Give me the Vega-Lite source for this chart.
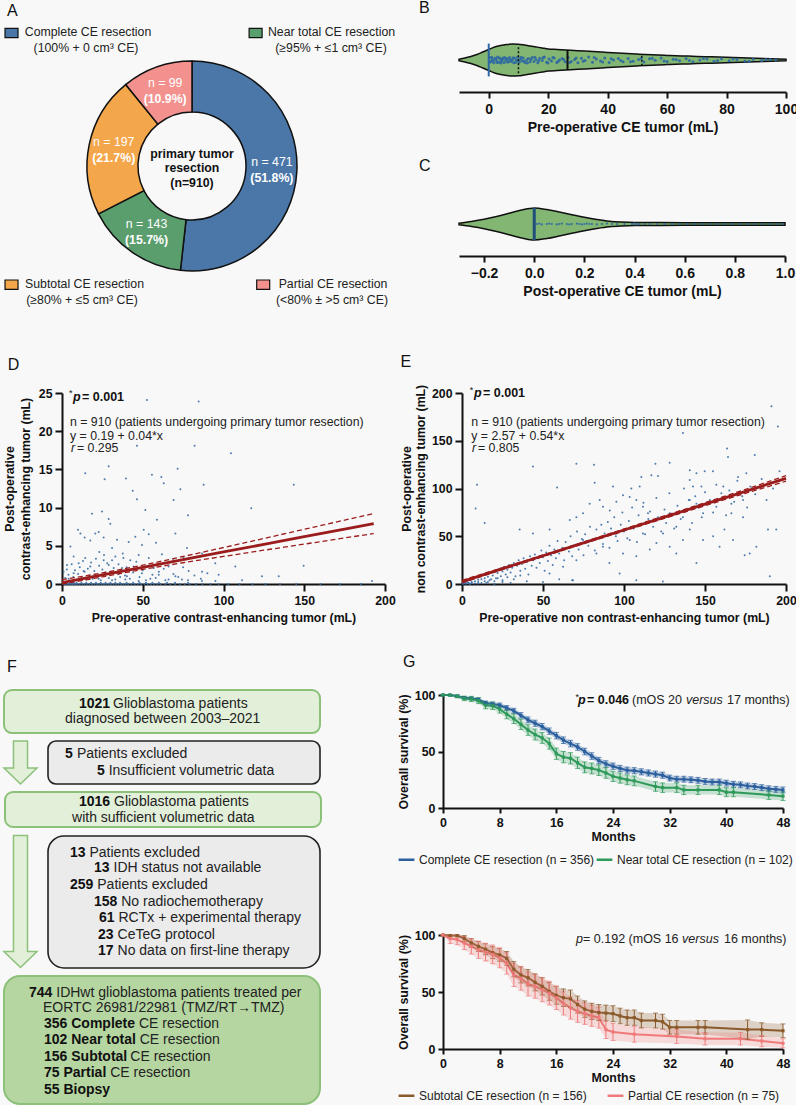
{
"$schema": "https://vega.github.io/schema/vega-lite/v6.json",
"background": "#f8f8f8",
"padding": 0,
"spacing": 30,
"resolve": {"scale": {"color": "independent"}, "legend": {"color": "independent"}},
"config": {
  "font": "Liberation Sans",
  "view": {"stroke": null},
  "axis": {"domainColor": "#111", "domainWidth": 2, "tickColor": "#111", "tickWidth": 2, "tickSize": 7, "labelColor": "#111", "titleColor": "#111", "labelFontWeight": "bold", "titleFontWeight": "bold", "labelFontSize": 12.3, "titleFontSize": 12.3, "labelPadding": 3, "grid": false, "labelFlush": false, "labelOverlap": false},
  "title": {"fontSize": 16, "fontWeight": "normal", "color": "#111", "anchor": "start"},
  "legend": {"labelFont": "Liberation Sans"}
},
"vconcat": [
{
  "spacing": 17,
  "resolve": {"scale": {"color": "independent"}, "legend": {"color": "independent"}},
  "hconcat": [
  {
    "width": 340, "height": 286,
    "layer": [
      {
        "data": {"values": [
          {"cat": "Complete", "n": 471, "ord": 1, "lab": "n = 471", "pct": "(51.8%)"},
          {"cat": "Near total", "n": 143, "ord": 2, "lab": "n = 143", "pct": "(15.7%)"},
          {"cat": "Subtotal", "n": 197, "ord": 3, "lab": "n = 197", "pct": "(21.7%)"},
          {"cat": "Partial", "n": 99, "ord": 4, "lab": "n = 99", "pct": "(10.9%)"}
        ]},
        "encoding": {
          "theta": {"field": "n", "type": "quantitative", "stack": true},
          "order": {"field": "ord", "type": "quantitative"},
          "x": {"datum": 47.5, "type": "quantitative", "scale": {"domain": [15, 100], "nice": false, "zero": false}, "axis": null},
          "y": {"datum": 55.33, "type": "quantitative", "scale": {"domain": [12.67, 108], "reverse": true, "nice": false, "zero": false}, "axis": null}
        },
        "layer": [
          {"mark": {"type": "arc", "innerRadius": 54, "outerRadius": 105, "stroke": "#111", "strokeWidth": 1.5},
           "encoding": {"color": {"field": "cat", "type": "nominal", "scale": {"domain": ["Complete", "Near total", "Subtotal", "Partial"], "range": ["#4a77a7", "#5b9e6e", "#f3a64a", "#f2918e"]}, "legend": null}}},
          {"mark": {"type": "text", "radius": 80, "dy": -8, "fill": "#ffffff", "fontSize": 12.3},
           "encoding": {"detail": {"field": "cat"}, "text": {"field": "lab"}}},
          {"mark": {"type": "text", "radius": 80, "dy": 8, "fill": "#ffffff", "fontSize": 12.3, "fontWeight": "bold"},
           "encoding": {"detail": {"field": "cat"}, "text": {"field": "pct"}}}
        ]
      },
      {
        "data": {"values": [
          {"cat": "Complete", "x": 2.38, "y": 11},
          {"cat": "Near total", "x": 63.4, "y": 11},
          {"cat": "Subtotal", "x": 2.38, "y": 94.9},
          {"cat": "Partial", "x": 65.3, "y": 94.9}
        ]},
        "mark": {"type": "point", "shape": "M-1,-0.72H1V0.72H-1Z", "size": 169, "filled": true, "stroke": "#111", "strokeWidth": 1.2, "opacity": 1},
        "encoding": {
          "x": {"field": "x", "type": "quantitative"},
          "y": {"field": "y", "type": "quantitative"},
          "color": {"field": "cat", "type": "nominal", "legend": null}
        }
      },
      {
        "data": {"values": [
          {"x": 21.5, "y": 10.77, "t": "Complete CE resection"},
          {"x": 21, "y": 15.9, "t": "(100% + 0 cm³ CE)"},
          {"x": 82.38, "y": 10.77, "t": "Near total CE resection"},
          {"x": 82.25, "y": 15.9, "t": "(≥95% + ≤1 cm³ CE)"},
          {"x": 20.63, "y": 94.67, "t": "Subtotal CE resection"},
          {"x": 20, "y": 100, "t": "(≥80% + ≤5 cm³ CE)"},
          {"x": 82.75, "y": 94.67, "t": "Partial CE resection"},
          {"x": 82.5, "y": 100, "t": "(<80% ± >5 cm³ CE)"}
        ]},
        "mark": {"type": "text", "align": "center", "baseline": "middle", "fontSize": 12.3, "color": "#222"},
        "encoding": {"x": {"field": "x", "type": "quantitative"}, "y": {"field": "y", "type": "quantitative"}, "text": {"field": "t"}}
      },
      {
        "data": {"values": [
          {"x": 47.5, "y": 51.33, "t": "primary tumor"},
          {"x": 47.5, "y": 56.1, "t": "resection"},
          {"x": 47.5, "y": 61.1, "t": "(n=910)"}
        ]},
        "mark": {"type": "text", "align": "center", "baseline": "middle", "fontSize": 12.3, "fontWeight": "bold", "color": "#111"},
        "encoding": {"x": {"field": "x", "type": "quantitative"}, "y": {"field": "y", "type": "quantitative"}, "text": {"field": "t"}}
      },
      {
        "data": {"values": [{"x": 1.25, "y": 3.8, "t": "A"}]},
        "mark": {"type": "text", "align": "left", "baseline": "middle", "fontSize": 16, "color": "#111"},
        "encoding": {"x": {"field": "x", "type": "quantitative"}, "y": {"field": "y", "type": "quantitative"}, "text": {"field": "t"}}
      }
    ]
  },
  {
    "spacing": 24,
    "vconcat": [
    {
      "width": 327, "height": 44,
      "title": {"text": "B", "frame": "group", "anchor": "start", "dx": -40, "offset": 22},
      "layer": [
        {
          "data": {"values": [
            {"x": -10, "hi": 0.035, "lo": -0.035}, {"x": -8, "hi": 0.1, "lo": -0.1}, {"x": -6, "hi": 0.175, "lo": -0.175},
            {"x": -4, "hi": 0.275, "lo": -0.275}, {"x": -2, "hi": 0.4, "lo": -0.4}, {"x": 0, "hi": 0.525, "lo": -0.525},
            {"x": 2, "hi": 0.65, "lo": -0.65}, {"x": 4, "hi": 0.725, "lo": -0.725}, {"x": 6, "hi": 0.775, "lo": -0.775},
            {"x": 8, "hi": 0.8, "lo": -0.8}, {"x": 10, "hi": 0.79, "lo": -0.79}, {"x": 12, "hi": 0.75, "lo": -0.75},
            {"x": 14, "hi": 0.7, "lo": -0.7}, {"x": 16, "hi": 0.65, "lo": -0.65}, {"x": 18, "hi": 0.6, "lo": -0.6},
            {"x": 20, "hi": 0.55, "lo": -0.55}, {"x": 23, "hi": 0.525, "lo": -0.525}, {"x": 26, "hi": 0.5, "lo": -0.5},
            {"x": 30, "hi": 0.465, "lo": -0.465}, {"x": 35, "hi": 0.425, "lo": -0.425}, {"x": 40, "hi": 0.38, "lo": -0.38},
            {"x": 45, "hi": 0.335, "lo": -0.335}, {"x": 50, "hi": 0.295, "lo": -0.295}, {"x": 55, "hi": 0.26, "lo": -0.26},
            {"x": 60, "hi": 0.23, "lo": -0.23}, {"x": 65, "hi": 0.205, "lo": -0.205}, {"x": 70, "hi": 0.18, "lo": -0.18},
            {"x": 75, "hi": 0.16, "lo": -0.16}, {"x": 80, "hi": 0.14, "lo": -0.14}, {"x": 85, "hi": 0.115, "lo": -0.115},
            {"x": 90, "hi": 0.09, "lo": -0.09}, {"x": 95, "hi": 0.065, "lo": -0.065}, {"x": 100, "hi": 0.04, "lo": -0.04}
          ]},
          "mark": {"type": "area", "fill": "#82b672", "stroke": "#111", "strokeWidth": 1.5, "interpolate": "monotone"},
          "encoding": {
            "x": {"field": "x", "type": "quantitative", "scale": {"domain": [-10, 100], "nice": false, "zero": false},
                  "axis": {"values": [0, 20, 40, 60, 80, 100], "offset": 10, "title": "Pre-operative CE tumor (mL)", "labelFontSize": 14, "titleFontSize": 14, "tickSize": 6, "labelPadding": 4, "titlePadding": 4}},
            "y": {"field": "hi", "type": "quantitative", "scale": {"domain": [-1.1, 1.1], "nice": false}, "axis": null, "stack": null},
            "y2": {"field": "lo"}
          }
        },
        {
          "data": {"values": [
            {"x":0.3,"j":0.12},{"x":0.8,"j":-0.08},{"x":1.2,"j":0.03},{"x":1.7,"j":-0.14},{"x":2.1,"j":0.09},{"x":2.6,"j":-0.02},{"x":3.0,"j":0.15},{"x":3.4,"j":-0.11},{"x":3.9,"j":0.05},{"x":4.3,"j":-0.05},
            {"x":4.8,"j":0.1},{"x":5.2,"j":-0.13},{"x":5.7,"j":0.0},{"x":6.1,"j":0.07},{"x":6.6,"j":-0.09},{"x":7.0,"j":0.12},{"x":7.5,"j":-0.08},{"x":7.9,"j":0.03},{"x":8.4,"j":-0.14},{"x":8.8,"j":0.09},
            {"x":9.3,"j":-0.02},{"x":9.7,"j":0.15},{"x":10.2,"j":-0.11},{"x":10.7,"j":0.05},{"x":11.1,"j":-0.05},{"x":11.6,"j":0.1},{"x":12.2,"j":-0.13},{"x":12.8,"j":0.0},{"x":13.3,"j":0.07},{"x":13.9,"j":-0.09},
            {"x":14.6,"j":0.12},{"x":15.2,"j":-0.08},{"x":15.9,"j":0.03},{"x":16.5,"j":-0.14},{"x":17.2,"j":0.09},{"x":18.0,"j":-0.02},{"x":18.7,"j":0.15},{"x":19.5,"j":-0.11},{"x":20.3,"j":0.05},{"x":21.1,"j":-0.05},
            {"x":22.0,"j":0.1},{"x":22.9,"j":-0.13},{"x":23.8,"j":0.0},{"x":24.7,"j":0.07},{"x":25.7,"j":-0.09},{"x":26.7,"j":0.12},{"x":27.8,"j":-0.08},{"x":28.9,"j":0.03},{"x":30.0,"j":-0.14},{"x":31.2,"j":0.09},
            {"x":32.4,"j":-0.02},{"x":33.6,"j":0.15},{"x":34.9,"j":-0.11},{"x":36.2,"j":0.05},{"x":37.6,"j":-0.05},{"x":39.0,"j":0.1},{"x":40.5,"j":-0.13},{"x":42.0,"j":0.0},{"x":43.6,"j":0.07},{"x":45.2,"j":-0.09},
            {"x":46.9,"j":0.08},{"x":48.6,"j":-0.06},{"x":50.4,"j":0.02},{"x":52.2,"j":-0.1},{"x":54.1,"j":0.06},{"x":56.0,"j":-0.01},{"x":58.0,"j":0.1},{"x":60.0,"j":-0.08},{"x":62.1,"j":0.04},{"x":64.2,"j":-0.04},
            {"x":66.4,"j":0.07},{"x":68.7,"j":-0.09},{"x":71.0,"j":0.0},{"x":73.4,"j":0.05},{"x":75.8,"j":-0.06},{"x":78.3,"j":0.06},{"x":80.9,"j":-0.04},{"x":83.5,"j":0.02},{"x":86.2,"j":-0.05},{"x":89.0,"j":0.04},
            {"x":91.8,"j":-0.02},{"x":94.7,"j":0.03},{"x":96.5,"j":0.0},
            {"x":0.5,"j":-0.1},{"x":1.0,"j":0.14},{"x":1.5,"j":-0.04},{"x":2.4,"j":0.06},{"x":2.8,"j":-0.12},{"x":3.6,"j":0.1},{"x":4.1,"j":-0.15},{"x":4.6,"j":0.02},{"x":5.4,"j":0.13},{"x":6.3,"j":-0.1},
            {"x":6.9,"j":0.04},{"x":7.7,"j":-0.03},{"x":8.2,"j":0.11},{"x":9.0,"j":-0.12},{"x":9.9,"j":0.01},{"x":10.9,"j":0.14},{"x":11.9,"j":-0.06},{"x":13.0,"j":-0.15},{"x":14.2,"j":0.04},{"x":15.5,"j":0.14},
            {"x":16.8,"j":-0.04},{"x":18.3,"j":0.11},{"x":19.9,"j":-0.15},{"x":21.6,"j":0.13},{"x":23.3,"j":-0.07},{"x":25.2,"j":0.03},{"x":27.2,"j":-0.12},{"x":29.4,"j":0.1},{"x":31.8,"j":-0.06},{"x":35.5,"j":0.12},
            {"x":38.3,"j":-0.1},{"x":41.2,"j":0.06},{"x":44.4,"j":-0.03},{"x":47.7,"j":-0.09},{"x":51.3,"j":0.07},{"x":55.0,"j":0.09},{"x":59.0,"j":-0.05},{"x":63.1,"j":0.03},{"x":67.5,"j":-0.02},{"x":72.2,"j":0.08},
            {"x":77.0,"j":-0.03},{"x":82.2,"j":0.05},{"x":87.6,"j":-0.06},{"x":93.2,"j":0.02}
          ]},
          "mark": {"type": "circle", "size": 9, "color": "#2d68a3", "opacity": 0.9},
          "encoding": {"x": {"field": "x", "type": "quantitative"}, "y": {"field": "j", "type": "quantitative"}}
        },
        {
          "data": {"values": [{"x": 26.5, "lo": -0.5, "hi": 0.5}]},
          "mark": {"type": "rule", "color": "#111", "strokeWidth": 2},
          "encoding": {"x": {"field": "x", "type": "quantitative"}, "y": {"field": "lo", "type": "quantitative"}, "y2": {"field": "hi"}}
        },
        {
          "data": {"values": [{"x": 10, "lo": -0.66, "hi": 0.66}, {"x": 51.5, "lo": -0.29, "hi": 0.29}]},
          "mark": {"type": "rule", "color": "#111", "strokeWidth": 1.5, "strokeDash": [2, 2]},
          "encoding": {"x": {"field": "x", "type": "quantitative"}, "y": {"field": "lo", "type": "quantitative"}, "y2": {"field": "hi"}}
        },
        {
          "data": {"values": [{"x": 0, "lo": -0.82, "hi": 0.82}]},
          "mark": {"type": "rule", "color": "#2d68a3", "strokeWidth": 2},
          "encoding": {"x": {"field": "x", "type": "quantitative"}, "y": {"field": "lo", "type": "quantitative"}, "y2": {"field": "hi"}}
        }
      ]
    },
    {
      "width": 326, "height": 44,
      "title": {"text": "C", "frame": "group", "anchor": "start", "dx": -40, "offset": 28},
      "layer": [
        {
          "data": {"values": [
            {"x": -0.3, "hi": 0.04, "lo": -0.04}, {"x": -0.25, "hi": 0.125, "lo": -0.125}, {"x": -0.2, "hi": 0.235, "lo": -0.235},
            {"x": -0.15, "hi": 0.375, "lo": -0.375}, {"x": -0.1, "hi": 0.535, "lo": -0.535}, {"x": -0.05, "hi": 0.7, "lo": -0.7},
            {"x": 0, "hi": 0.8, "lo": -0.8}, {"x": 0.05, "hi": 0.725, "lo": -0.725}, {"x": 0.1, "hi": 0.6, "lo": -0.6},
            {"x": 0.15, "hi": 0.465, "lo": -0.465}, {"x": 0.2, "hi": 0.335, "lo": -0.335}, {"x": 0.25, "hi": 0.225, "lo": -0.225},
            {"x": 0.3, "hi": 0.14, "lo": -0.14}, {"x": 0.35, "hi": 0.1, "lo": -0.1}, {"x": 0.4, "hi": 0.08, "lo": -0.08},
            {"x": 0.5, "hi": 0.07, "lo": -0.07}, {"x": 0.6, "hi": 0.065, "lo": -0.065}, {"x": 0.8, "hi": 0.065, "lo": -0.065},
            {"x": 1.0, "hi": 0.065, "lo": -0.065}
          ]},
          "mark": {"type": "area", "fill": "#82b672", "stroke": "#111", "strokeWidth": 1.5, "interpolate": "monotone"},
          "encoding": {
            "x": {"field": "x", "type": "quantitative", "scale": {"domain": [-0.3, 1.0], "nice": false, "zero": false},
                  "axis": {"values": [-0.2, 0, 0.2, 0.4, 0.6, 0.8, 1.0], "format": ".1f", "offset": 10, "title": "Post-operative CE tumor (mL)", "labelFontSize": 14, "titleFontSize": 14, "tickSize": 6, "labelPadding": 4, "titlePadding": 4}},
            "y": {"field": "hi", "type": "quantitative", "scale": {"domain": [-1.1, 1.1], "nice": false}, "axis": null, "stack": null},
            "y2": {"field": "lo"}
          }
        },
        {
          "data": {"values": [
            {"x":0.01,"j":0},{"x":0.02,"j":0.02},{"x":0.03,"j":-0.02},{"x":0.05,"j":0},{"x":0.06,"j":0.02},{"x":0.07,"j":0},{"x":0.09,"j":-0.02},{"x":0.1,"j":0},
            {"x":0.11,"j":0.02},{"x":0.13,"j":0},{"x":0.14,"j":-0.02},{"x":0.15,"j":0},{"x":0.17,"j":0.02},{"x":0.18,"j":0},{"x":0.19,"j":-0.02},{"x":0.2,"j":0},
            {"x":0.21,"j":0.02},{"x":0.22,"j":0},{"x":0.23,"j":0},{"x":0.25,"j":-0.02},{"x":0.27,"j":0},{"x":0.29,"j":0.02},{"x":0.31,"j":0},{"x":0.33,"j":0},
            {"x":0.36,"j":0},{"x":0.39,"j":0},{"x":0.4,"j":0.02},{"x":0.41,"j":-0.02},{"x":0.42,"j":0},{"x":0.44,"j":0},{"x":0.46,"j":0},{"x":0.49,"j":0},
            {"x":0.52,"j":0},{"x":0.55,"j":0},{"x":0.58,"j":0},{"x":0.61,"j":0},{"x":0.64,"j":0},{"x":0.67,"j":0},{"x":0.7,"j":0},{"x":0.73,"j":0},
            {"x":0.76,"j":0},{"x":0.79,"j":0},{"x":0.82,"j":0},{"x":0.85,"j":0},{"x":0.88,"j":0},{"x":0.91,"j":0},{"x":0.94,"j":0},{"x":0.97,"j":0},{"x":0.99,"j":0}
          ]},
          "mark": {"type": "circle", "size": 5, "color": "#2d68a3", "opacity": 0.9},
          "encoding": {"x": {"field": "x", "type": "quantitative"}, "y": {"field": "j", "type": "quantitative"}}
        },
        {
          "data": {"values": [{"x": 0, "lo": -0.8, "hi": 0.8}]},
          "mark": {"type": "rule", "color": "#1f4f7a", "strokeWidth": 3},
          "encoding": {"x": {"field": "x", "type": "quantitative"}, "y": {"field": "lo", "type": "quantitative"}, "y2": {"field": "hi"}}
        }
      ]
    }
    ]
  }
  ]
},
{
  "spacing": 4,
  "hconcat": [
  {
    "width": 323, "height": 191,
    "title": {"text": "D", "frame": "bounds", "anchor": "start", "dx": 4, "offset": 14},
    "layer": [
      {
        "data": {"values": [
          {"x":52.6,"y":24.1},{"x":84.6,"y":23.9},{"x":46.4,"y":18.1},{"x":82.1,"y":18.1},{"x":104.6,"y":17.1},{"x":28.9,"y":15.4},{"x":71.6,"y":15.1},{"x":14.4,"y":14.5},
          {"x":55.7,"y":14.3},{"x":61.5,"y":14.0},{"x":39.6,"y":13.8},{"x":26.4,"y":13.7},{"x":63,"y":13.2},{"x":87.7,"y":13.0},{"x":143.5,"y":13.0},{"x":73.3,"y":12.4},
          {"x":43.8,"y":12.2},{"x":46.4,"y":11.1},{"x":69.1,"y":11.0},{"x":117.2,"y":9.9},{"x":18.6,"y":9.2},{"x":24.8,"y":9.5},{"x":51.6,"y":9.7},{"x":78,"y":9.0},
          {"x":58.8,"y":8.4},{"x":28.9,"y":8.5},{"x":29.9,"y":7.9},{"x":9.9,"y":7.1},{"x":22.7,"y":6.8},{"x":11.4,"y":6.6},{"x":14,"y":6.1},{"x":20.6,"y":6.6},
          {"x":25.8,"y":6.1},{"x":50.6,"y":7.1},{"x":53.7,"y":6.5},{"x":70.2,"y":6.6},{"x":45.4,"y":6.2},{"x":17.5,"y":5.7},{"x":34.1,"y":5.8},{"x":41.3,"y":5.5},
          {"x":49.5,"y":5.1},{"x":58.2,"y":5.4},{"x":5.2,"y":4.9},{"x":31,"y":4.7},{"x":77.4,"y":4.7},{"x":23.1,"y":4.2},{"x":37.6,"y":4.0},{"x":47.5,"y":3.8},
          {"x":61.9,"y":3.9},{"x":86.7,"y":4.0},{"x":7.2,"y":3.6},{"x":14.4,"y":3.4},{"x":25.8,"y":3.1},{"x":33,"y":3.6},{"x":42.3,"y":3.1},{"x":53.7,"y":3.4},
          {"x":69.1,"y":3.1},{"x":75.3,"y":3.4},{"x":149.6,"y":2.4},{"x":94.9,"y":2.7},{"x":107.3,"y":2.3},{"x":3.1,"y":2.5},{"x":10.3,"y":2.7},{"x":17.5,"y":2.3},
          {"x":28.9,"y":2.5},{"x":37.2,"y":2.1},{"x":44.4,"y":2.3},{"x":56.8,"y":2.1},{"x":66,"y":2.3},{"x":78.4,"y":1.7},{"x":86.7,"y":1.6},{"x":1,"y":1.6},
          {"x":7.2,"y":1.4},{"x":13.4,"y":1.7},{"x":20.6,"y":1.2},{"x":26.8,"y":1.5},{"x":35.1,"y":1.3},{"x":40.2,"y":1.0},{"x":49.5,"y":1.4},{"x":59.9,"y":1.2},
          {"x":70.2,"y":1.0},{"x":97,"y":1.2},{"x":123.8,"y":1.0},{"x":134.2,"y":1.0},{"x":4.1,"y":0.7},{"x":12.4,"y":0.6},{"x":22.7,"y":0.7},{"x":31,"y":0.5},
          {"x":39.2,"y":0.6},{"x":47.5,"y":0.4},{"x":54.7,"y":0.7},{"x":64,"y":0.5},{"x":74.3,"y":0.6},{"x":86.7,"y":0.4},{"x":111.5,"y":0.5},{"x":192,"y":0.4},
          {"x":2,"y":0.8},{"x":3,"y":1.9},{"x":4,"y":1.2},{"x":5,"y":0.4},{"x":6,"y":2.6},{"x":7,"y":0.9},{"x":8,"y":1.8},{"x":9,"y":0.5},{"x":10,"y":1.3},{"x":11,"y":2.2},
          {"x":12,"y":0.9},{"x":13,"y":3.0},{"x":14,"y":1.6},{"x":15,"y":0.6},{"x":16,"y":2.0},{"x":17,"y":1.1},{"x":18,"y":2.8},{"x":19,"y":0.7},{"x":20,"y":1.7},{"x":21,"y":3.3},
          {"x":22,"y":1.0},{"x":23,"y":2.4},{"x":24,"y":0.5},{"x":25,"y":1.9},{"x":26,"y":3.8},{"x":27,"y":1.2},{"x":28,"y":2.7},{"x":29,"y":0.8},{"x":30,"y":1.6},{"x":31,"y":3.1},
          {"x":32,"y":2.1},{"x":33,"y":0.6},{"x":34,"y":1.4},{"x":35,"y":2.6},{"x":36,"y":0.9},{"x":37,"y":1.8},{"x":38,"y":3.4},{"x":39,"y":1.1},{"x":40,"y":2.2},{"x":42,"y":0.7},
          {"x":44,"y":1.5},{"x":46,"y":2.9},{"x":48,"y":0.9},{"x":50,"y":1.8},{"x":52,"y":0.5},{"x":54,"y":2.4},{"x":56,"y":1.2},{"x":58,"y":0.8},{"x":60,"y":1.6},{"x":63,"y":2.0},
          {"x":66,"y":0.6},{"x":69,"y":1.3},{"x":72,"y":0.9},{"x":75,"y":2.2},{"x":78,"y":0.5},{"x":82,"y":1.1},{"x":86,"y":0.7},{"x":90,"y":1.4},{"x":95,"y":0.4},
          {"x":0.5,"y":0},{"x":1.5,"y":0},{"x":2.5,"y":0},{"x":3.5,"y":0},{"x":4.5,"y":0},{"x":5.5,"y":0},{"x":6.5,"y":0},{"x":7.5,"y":0},{"x":8.5,"y":0},{"x":9.5,"y":0},
          {"x":11,"y":0},{"x":12.5,"y":0},{"x":14,"y":0},{"x":15.5,"y":0},{"x":17,"y":0},{"x":18.5,"y":0},{"x":20,"y":0},{"x":21.5,"y":0},{"x":23,"y":0},{"x":24.5,"y":0},
          {"x":26,"y":0},{"x":27.5,"y":0},{"x":29,"y":0},{"x":30.5,"y":0},{"x":32,"y":0},{"x":33.5,"y":0},{"x":35,"y":0},{"x":36.5,"y":0},{"x":38,"y":0},{"x":39.5,"y":0},
          {"x":41,"y":0},{"x":43,"y":0},{"x":45,"y":0},{"x":47,"y":0},{"x":49,"y":0},{"x":51,"y":0},{"x":53,"y":0},{"x":55,"y":0},{"x":57,"y":0},{"x":59,"y":0},
          {"x":61,"y":0},{"x":64,"y":0},{"x":67,"y":0},{"x":70,"y":0},{"x":73,"y":0},{"x":76,"y":0},{"x":79,"y":0},{"x":83,"y":0},{"x":87,"y":0},{"x":92,"y":0},
          {"x":97,"y":0},{"x":103,"y":0},{"x":110,"y":0},{"x":118,"y":0},{"x":126,"y":0},{"x":135,"y":0},{"x":145,"y":0},{"x":160,"y":0},{"x":172,"y":0},{"x":185,"y":0},
          {"x":1,"y":0.15},{"x":3,"y":0.15},{"x":5,"y":0.15},{"x":7,"y":0.15},{"x":9,"y":0.15},{"x":12,"y":0.15},{"x":15,"y":0.15},{"x":18,"y":0.15},{"x":21,"y":0.15},{"x":24,"y":0.15},
          {"x":27,"y":0.15},{"x":30,"y":0.15},{"x":33,"y":0.15},{"x":36,"y":0.15},{"x":40,"y":0.15},{"x":44,"y":0.15},{"x":48,"y":0.15},{"x":52,"y":0.15},{"x":56,"y":0.15},{"x":60,"y":0.15},
          {"x":65,"y":0.15},{"x":70,"y":0.15},{"x":78,"y":0.15}
        ]},
        "mark": {"type": "circle", "size": 4, "color": "#3a6ea5", "opacity": 0.9},
        "encoding": {
          "x": {"field": "x", "type": "quantitative", "scale": {"domain": [0, 200], "nice": false},
                "axis": {"values": [0, 50, 100, 150, 200], "title": "Pre-operative contrast-enhancing tumor (mL)", "titlePadding": 5}},
          "y": {"field": "y", "type": "quantitative", "scale": {"domain": [0, 25], "nice": false},
                "axis": {"values": [0, 5, 10, 15, 20, 25], "title": ["Post-operative", "contrast-enhancing tumor (mL)"], "titleLineHeight": 15.5, "titlePadding": 6}}
        }
      },
      {
        "data": {"values": [
          {"x": 0, "y": 0.19, "lo": 0.0, "hi": 0.57}, {"x": 25, "y": 1.19, "lo": 0.93, "hi": 1.45}, {"x": 50, "y": 2.19, "lo": 1.91, "hi": 2.47},
          {"x": 75, "y": 3.19, "lo": 2.78, "hi": 3.6}, {"x": 100, "y": 4.19, "lo": 3.61, "hi": 4.77}, {"x": 125, "y": 5.19, "lo": 4.42, "hi": 5.96},
          {"x": 150, "y": 6.19, "lo": 5.22, "hi": 7.16}, {"x": 175, "y": 7.19, "lo": 6.03, "hi": 8.36}, {"x": 193, "y": 7.91, "lo": 6.6, "hi": 9.22}
        ]},
        "encoding": {"x": {"field": "x", "type": "quantitative", "axis": {"values": [0, 50, 100, 150, 200]}}},
        "layer": [
          {"mark": {"type": "line", "color": "#9b1c1c", "strokeWidth": 1.3, "strokeDash": [5, 3], "interpolate": "monotone"}, "encoding": {"y": {"field": "lo", "type": "quantitative", "axis": {"values": [0, 5, 10, 15, 20, 25]}}}},
          {"mark": {"type": "line", "color": "#9b1c1c", "strokeWidth": 1.3, "strokeDash": [5, 3], "interpolate": "monotone"}, "encoding": {"y": {"field": "hi", "type": "quantitative", "axis": {"values": [0, 5, 10, 15, 20, 25]}}}},
          {"mark": {"type": "line", "color": "#9b1c1c", "strokeWidth": 2.8}, "encoding": {"y": {"field": "y", "type": "quantitative", "axis": {"values": [0, 5, 10, 15, 20, 25]}}}}
        ]
      },
      {
        "data": {"values": [{"x": 4.33, "y": 25.0, "t": "*"}]},
        "mark": {"type": "text", "align": "left", "baseline": "middle", "fontSize": 9, "color": "#111"},
        "encoding": {"x": {"field": "x", "type": "quantitative", "axis": {"values": [0, 50, 100, 150, 200]}}, "y": {"field": "y", "type": "quantitative", "axis": {"values": [0, 5, 10, 15, 20, 25]}}, "text": {"field": "t"}}
      },
      {
        "data": {"values": [{"x": 6.81, "y": 24.52, "t": "p"}]},
        "mark": {"type": "text", "align": "left", "baseline": "middle", "fontSize": 12.5, "fontWeight": "bold", "fontStyle": "italic", "color": "#111"},
        "encoding": {"x": {"field": "x", "type": "quantitative", "axis": {"values": [0, 50, 100, 150, 200]}}, "y": {"field": "y", "type": "quantitative", "axis": {"values": [0, 5, 10, 15, 20, 25]}}, "text": {"field": "t"}}
      },
      {
        "data": {"values": [{"x": 12.38, "y": 24.52, "t": "= 0.001"}]},
        "mark": {"type": "text", "align": "left", "baseline": "middle", "fontSize": 12.5, "fontWeight": "bold", "color": "#111"},
        "encoding": {"x": {"field": "x", "type": "quantitative", "axis": {"values": [0, 50, 100, 150, 200]}}, "y": {"field": "y", "type": "quantitative", "axis": {"values": [0, 5, 10, 15, 20, 25]}}, "text": {"field": "t"}}
      },
      {
        "data": {"values": [
          {"x": 4.95, "y": 21.24, "t": "n = 910 (patients undergoing primary tumor resection)"},
          {"x": 4.95, "y": 19.37, "t": "y = 0.19 + 0.04*x"},
          {"x": 9.29, "y": 17.76, "t": "= 0.295"}
        ]},
        "mark": {"type": "text", "align": "left", "baseline": "middle", "fontSize": 12.3, "color": "#222"},
        "encoding": {"x": {"field": "x", "type": "quantitative", "axis": {"values": [0, 50, 100, 150, 200]}}, "y": {"field": "y", "type": "quantitative", "axis": {"values": [0, 5, 10, 15, 20, 25]}}, "text": {"field": "t"}}
      },
      {
        "data": {"values": [{"x": 5.57, "y": 17.76, "t": "r"}]},
        "mark": {"type": "text", "align": "left", "baseline": "middle", "fontSize": 12.3, "fontStyle": "italic", "color": "#222"},
        "encoding": {"x": {"field": "x", "type": "quantitative", "axis": {"values": [0, 50, 100, 150, 200]}}, "y": {"field": "y", "type": "quantitative", "axis": {"values": [0, 5, 10, 15, 20, 25]}}, "text": {"field": "t"}}
      }
    ]
  },
  {
    "width": 324, "height": 191,
    "title": {"text": "E", "frame": "bounds", "anchor": "start", "dx": 0, "offset": 14},
    "layer": [
      {
        "data": {"values": [
          {"x":191,"y":186},{"x":195,"y":165},{"x":136.4,"y":158},{"x":163.6,"y":142},{"x":164.2,"y":133},{"x":180.7,"y":135},{"x":43.8,"y":123},{"x":70.6,"y":126},
          {"x":81.5,"y":125},{"x":119.4,"y":126},{"x":128.2,"y":127},{"x":140.6,"y":119},{"x":144.7,"y":116},{"x":149.8,"y":118},{"x":154.9,"y":118},{"x":170.4,"y":112},
          {"x":175.5,"y":116},{"x":110.7,"y":112},{"x":116.9,"y":114},{"x":121,"y":113},{"x":9.3,"y":104},{"x":58.7,"y":101},{"x":81.9,"y":106},{"x":93.2,"y":102},
          {"x":104.5,"y":100},{"x":109.7,"y":102},{"x":140.6,"y":109},{"x":147.8,"y":102},{"x":160.1,"y":95},{"x":173.5,"y":88},{"x":173.5,"y":70},{"x":166.3,"y":74},
          {"x":188.9,"y":57},{"x":194,"y":57},{"x":174.5,"y":30},{"x":8.4,"y":79},{"x":14,"y":64},{"x":35.6,"y":57},{"x":43.8,"y":53},{"x":54.1,"y":57},
          {"x":66.5,"y":67},{"x":70.6,"y":70},{"x":74.7,"y":74},{"x":78.8,"y":84},{"x":85,"y":88},{"x":87,"y":81},{"x":91.2,"y":77},{"x":95.3,"y":86},
          {"x":99.4,"y":93},{"x":103.5,"y":91},{"x":107.6,"y":88},{"x":111.7,"y":81},{"x":114.8,"y":74},{"x":119.9,"y":67},{"x":124.1,"y":53},{"x":128.2,"y":39},
          {"x":132.3,"y":32},{"x":136.4,"y":46},{"x":140.6,"y":57},{"x":144.7,"y":22},{"x":148.8,"y":46},{"x":155,"y":50},{"x":159,"y":39},{"x":162,"y":57},
          {"x":166.3,"y":84},{"x":167.3,"y":46},{"x":177.6,"y":32},{"x":181.7,"y":39},{"x":190,"y":8},{"x":97.3,"y":11},{"x":107.6,"y":4},{"x":124,"y":2.5},
          {"x":91,"y":22},{"x":83,"y":32},{"x":74.7,"y":46},{"x":70.6,"y":25},{"x":62.4,"y":18},{"x":54,"y":11},{"x":68.5,"y":4},{"x":87,"y":39},
          {"x":95.3,"y":53},{"x":103.5,"y":46},{"x":99.4,"y":32},{"x":107.6,"y":29},{"x":115.9,"y":36},{"x":120,"y":43},{"x":111.7,"y":53},{"x":132.3,"y":60},
          {"x":128.2,"y":74},{"x":136.4,"y":70},{"x":140.6,"y":88},{"x":144.7,"y":84},{"x":148.8,"y":74},{"x":153,"y":88},{"x":157,"y":81},{"x":142.6,"y":102},{"x":161.3,"y":102},
          {"x":1,"y":0.5},{"x":2,"y":1.5},{"x":3,"y":2.5},{"x":4,"y":1},{"x":5,"y":4},{"x":6,"y":2},{"x":7,"y":5.5},{"x":8,"y":3},{"x":9,"y":7},{"x":10,"y":4.5},
          {"x":11,"y":8},{"x":12,"y":5},{"x":13,"y":9.5},{"x":14,"y":6},{"x":15,"y":11},{"x":16,"y":7.5},{"x":17,"y":4},{"x":18,"y":12},{"x":19,"y":9},{"x":20,"y":14},
          {"x":21,"y":6},{"x":22,"y":11.5},{"x":23,"y":16},{"x":24,"y":8},{"x":25,"y":13},{"x":26,"y":18},{"x":27,"y":10},{"x":28,"y":15},{"x":29,"y":20},{"x":30,"y":12},
          {"x":31,"y":17},{"x":32,"y":22},{"x":33,"y":8},{"x":34,"y":19},{"x":35,"y":25},{"x":36,"y":14},{"x":37,"y":21},{"x":38,"y":27},{"x":39,"y":16},{"x":40,"y":23},
          {"x":41,"y":10},{"x":42,"y":29},{"x":43,"y":19},{"x":44,"y":25},{"x":45,"y":31},{"x":46,"y":17},{"x":47,"y":27},{"x":48,"y":22},{"x":49,"y":35},{"x":50,"y":28},
          {"x":51,"y":14},{"x":52,"y":33},{"x":53,"y":24},{"x":54,"y":40},{"x":55,"y":30},{"x":56,"y":20},{"x":57,"y":36},{"x":58,"y":27},{"x":59,"y":45},{"x":60,"y":32},
          {"x":62,"y":38},{"x":63,"y":25},{"x":64,"y":44},{"x":66,"y":34},{"x":67,"y":50},{"x":68,"y":29},{"x":70,"y":41},{"x":71,"y":55},{"x":72,"y":36},{"x":74,"y":47},
          {"x":75,"y":30},{"x":76,"y":52},{"x":78,"y":40},{"x":79,"y":60},{"x":80,"y":45},{"x":82,"y":35},{"x":83,"y":57},{"x":84,"y":48},{"x":86,"y":62},{"x":87,"y":42},
          {"x":88,"y":53},{"x":90,"y":65},{"x":91,"y":38},{"x":92,"y":58},{"x":94,"y":70},{"x":95,"y":50},{"x":96,"y":45},{"x":98,"y":62},{"x":99,"y":75},{"x":100,"y":55},
          {"x":102,"y":48},{"x":103,"y":66},{"x":105,"y":80},{"x":106,"y":58},{"x":108,"y":44},{"x":109,"y":72},{"x":110,"y":62},{"x":112,"y":85},{"x":113,"y":52},{"x":115,"y":68},
          {"x":116,"y":76},{"x":118,"y":60},{"x":120,"y":90},{"x":121,"y":70},{"x":123,"y":55},{"x":125,"y":78},{"x":126,"y":64},{"x":128,"y":95},{"x":130,"y":72},{"x":131,"y":58},
          {"x":133,"y":82},{"x":135,"y":68},{"x":137,"y":100},{"x":138,"y":76},{"x":140,"y":88},{"x":142,"y":64},{"x":144,"y":92},{"x":146,"y":80},{"x":148,"y":70},{"x":150,"y":96},
          {"x":152,"y":84},{"x":155,"y":75},{"x":157,"y":104},{"x":160,"y":88},{"x":163,"y":72},{"x":165,"y":98},{"x":168,"y":86},{"x":170,"y":108},{"x":173,"y":92},{"x":176,"y":80},
          {"x":178,"y":102},{"x":181,"y":94},{"x":185,"y":110},{"x":188,"y":88},{"x":192,"y":100},{"x":196,"y":118},
          {"x":0.5,"y":0.2},{"x":1.5,"y":0.8},{"x":2.5,"y":0.3},{"x":3.5,"y":1.8},{"x":4.5,"y":0.6},{"x":6,"y":1},{"x":8,"y":0.4},{"x":10,"y":2},{"x":12,"y":1},
          {"x":14,"y":3},{"x":16,"y":2},{"x":18,"y":5},{"x":20,"y":3},{"x":22,"y":6},{"x":25,"y":4},{"x":28,"y":7},{"x":32,"y":5},{"x":36,"y":9},
          {"x":5,"y":0},{"x":10,"y":0.5},{"x":15,"y":1},{"x":20,"y":0},{"x":25,"y":2},{"x":30,"y":1},{"x":40,"y":3},{"x":50,"y":2},{"x":60,"y":5},{"x":68,"y":4}
        ]},
        "mark": {"type": "circle", "size": 4, "color": "#3a6ea5", "opacity": 0.9},
        "encoding": {
          "x": {"field": "x", "type": "quantitative", "scale": {"domain": [0, 200], "nice": false},
                "axis": {"values": [0, 50, 100, 150, 200], "title": "Pre-operative non contrast-enhancing tumor (mL)", "titlePadding": 5}},
          "y": {"field": "y", "type": "quantitative", "scale": {"domain": [0, 200], "nice": false},
                "axis": {"values": [0, 50, 100, 150, 200], "title": ["Post-operative", "non contrast-enhancing tumor (mL)"], "titleLineHeight": 14, "titlePadding": 4}}
        }
      },
      {
        "data": {"values": [
          {"x": 0, "y": 2.57, "lo": 1.2, "hi": 3.9}, {"x": 25, "y": 16.07, "lo": 15.1, "hi": 17.0}, {"x": 50, "y": 29.57, "lo": 28.7, "hi": 30.4},
          {"x": 75, "y": 43.07, "lo": 42.2, "hi": 43.9}, {"x": 100, "y": 56.57, "lo": 55.5, "hi": 57.6}, {"x": 125, "y": 70.07, "lo": 68.8, "hi": 71.4},
          {"x": 150, "y": 83.57, "lo": 81.9, "hi": 85.2}, {"x": 175, "y": 97.07, "lo": 95.0, "hi": 99.1}, {"x": 200, "y": 110.57, "lo": 107.6, "hi": 113.5}
        ]},
        "encoding": {"x": {"field": "x", "type": "quantitative"}},
        "layer": [
          {"mark": {"type": "line", "color": "#9b1c1c", "strokeWidth": 1.3, "strokeDash": [5, 3], "interpolate": "monotone"}, "encoding": {"y": {"field": "lo", "type": "quantitative"}}},
          {"mark": {"type": "line", "color": "#9b1c1c", "strokeWidth": 1.3, "strokeDash": [5, 3], "interpolate": "monotone"}, "encoding": {"y": {"field": "hi", "type": "quantitative"}}},
          {"mark": {"type": "line", "color": "#9b1c1c", "strokeWidth": 2.8}, "encoding": {"y": {"field": "y", "type": "quantitative"}}}
        ]
      },
      {
        "data": {"values": [{"x": 4.75, "y": 203, "t": "*"}]},
        "mark": {"type": "text", "align": "left", "baseline": "middle", "fontSize": 9, "color": "#111"},
        "encoding": {"x": {"field": "x", "type": "quantitative"}, "y": {"field": "y", "type": "quantitative"}, "text": {"field": "t"}}
      },
      {
        "data": {"values": [{"x": 7.4, "y": 199.7, "t": "p"}]},
        "mark": {"type": "text", "align": "left", "baseline": "middle", "fontSize": 12.5, "fontWeight": "bold", "fontStyle": "italic", "color": "#111"},
        "encoding": {"x": {"field": "x", "type": "quantitative"}, "y": {"field": "y", "type": "quantitative"}, "text": {"field": "t"}}
      },
      {
        "data": {"values": [{"x": 12.96, "y": 199.7, "t": "= 0.001"}]},
        "mark": {"type": "text", "align": "left", "baseline": "middle", "fontSize": 12.5, "fontWeight": "bold", "color": "#111"},
        "encoding": {"x": {"field": "x", "type": "quantitative"}, "y": {"field": "y", "type": "quantitative"}, "text": {"field": "t"}}
      },
      {
        "data": {"values": [
          {"x": 5.74, "y": 169.9, "t": "n = 910 (patients undergoing primary tumor resection)"},
          {"x": 5.74, "y": 155.3, "t": "y = 2.57 + 0.54*x"},
          {"x": 9.88, "y": 142.1, "t": "= 0.805"}
        ]},
        "mark": {"type": "text", "align": "left", "baseline": "middle", "fontSize": 12.3, "color": "#222"},
        "encoding": {"x": {"field": "x", "type": "quantitative"}, "y": {"field": "y", "type": "quantitative"}, "text": {"field": "t"}}
      },
      {
        "data": {"values": [{"x": 6.17, "y": 142.1, "t": "r"}]},
        "mark": {"type": "text", "align": "left", "baseline": "middle", "fontSize": 12.3, "fontStyle": "italic", "color": "#222"},
        "encoding": {"x": {"field": "x", "type": "quantitative"}, "y": {"field": "y", "type": "quantitative"}, "text": {"field": "t"}}
      }
    ]
  }
  ]
},
{
  "spacing": 74,
  "resolve": {"scale": {"color": "independent"}, "legend": {"color": "independent"}},
  "hconcat": [
  {
    "width": 260, "height": 412,
    "layer": [
      {
        "data": {"values": [
          {"x": 0.625, "x2": 99.375, "y": 9.69, "y2": 23.13},
          {"x": 0.94, "x2": 99.69, "y": 41.56, "y2": 52.5}
        ]},
        "mark": {"type": "rect", "fill": "#e2efd9", "stroke": "#8cc17a", "strokeWidth": 2, "cornerRadius": 8},
        "encoding": {
          "x": {"field": "x", "type": "quantitative", "scale": {"domain": [18.75, 100], "nice": false, "zero": false}, "axis": null},
          "x2": {"field": "x2"},
          "y": {"field": "y", "type": "quantitative", "scale": {"domain": [11.25, 140], "reverse": true, "nice": false, "zero": false}, "axis": null},
          "y2": {"field": "y2"}
        }
      },
      {
        "data": {"values": [{"x": 14.375, "x2": 99.375, "y": 25.63, "y2": 39.06}]},
        "mark": {"type": "rect", "fill": "#ebebeb", "stroke": "#222", "strokeWidth": 1.6, "cornerRadius": 8},
        "encoding": {"x": {"field": "x", "type": "quantitative"}, "x2": {"field": "x2"}, "y": {"field": "y", "type": "quantitative"}, "y2": {"field": "y2"}}
      },
      {
        "data": {"values": [{"x": 14.375, "x2": 99.375, "y": 55.31, "y2": 96.56}]},
        "mark": {"type": "rect", "fill": "#ebebeb", "stroke": "#222", "strokeWidth": 1.6, "cornerRadius": 16},
        "encoding": {"x": {"field": "x", "type": "quantitative"}, "x2": {"field": "x2"}, "y": {"field": "y", "type": "quantitative"}, "y2": {"field": "y2"}}
      },
      {
        "data": {"values": [{"x": 0.625, "x2": 99.375, "y": 99.06, "y2": 139.06}]},
        "mark": {"type": "rect", "fill": "#b5d6a1", "stroke": "#8cc17a", "strokeWidth": 2, "cornerRadius": 16},
        "encoding": {"x": {"field": "x", "type": "quantitative"}, "x2": {"field": "x2"}, "y": {"field": "y", "type": "quantitative"}, "y2": {"field": "y2"}}
      },
      {
        "data": {"values": [{"x": 5.78, "y": 32.34}]},
        "mark": {"type": "point", "shape": "M-0.326,-1H0.326V0.256H0.767L0,1L-0.767,0.256H-0.326Z", "size": 1849, "filled": true, "fill": "#e2efd9", "stroke": "#8cc17a", "strokeWidth": 1.5, "opacity": 1},
        "encoding": {"x": {"field": "x", "type": "quantitative"}, "y": {"field": "y", "type": "quantitative"}}
      },
      {
        "data": {"values": [{"x": 5.78, "y": 75.78}]},
        "mark": {"type": "point", "shape": "M-0.106,-1H0.106V0.758H0.25L0,1L-0.25,0.758H-0.106Z", "size": 17424, "filled": true, "fill": "#e2efd9", "stroke": "#8cc17a", "strokeWidth": 1.5, "opacity": 1},
        "encoding": {"x": {"field": "x", "type": "quantitative"}, "y": {"field": "y", "type": "quantitative"}}
      },
      {
        "data": {"values": [
          {"x": 24.06, "y": 13.97, "t": "1021"},
          {"x": 19.69, "y": 29.59, "t": "5"},
          {"x": 29.69, "y": 35.0, "t": "5"},
          {"x": 24.06, "y": 44.59, "t": "1016"},
          {"x": 21.25, "y": 60.53, "t": "13"},
          {"x": 28.75, "y": 65.41, "t": "13"},
          {"x": 21.25, "y": 70.72, "t": "259"},
          {"x": 28.75, "y": 75.94, "t": "158"},
          {"x": 30.31, "y": 81.03, "t": "61"},
          {"x": 30.0, "y": 86.25, "t": "23"},
          {"x": 30.0, "y": 91.25, "t": "17"},
          {"x": 8.44, "y": 104.28, "t": "744"},
          {"x": 13.13, "y": 114.16, "t": "356 Complete"},
          {"x": 13.13, "y": 119.06, "t": "102 Near total"},
          {"x": 13.13, "y": 124.28, "t": "156 Subtotal"},
          {"x": 13.13, "y": 129.47, "t": "75 Partial"},
          {"x": 13.13, "y": 134.69, "t": "55 Biopsy"}
        ]},
        "mark": {"type": "text", "align": "left", "baseline": "middle", "fontSize": 14, "fontWeight": "bold", "color": "#111"},
        "encoding": {"x": {"field": "x", "type": "quantitative"}, "y": {"field": "y", "type": "quantitative"}, "text": {"field": "t"}}
      },
      {
        "data": {"values": [
          {"x": 34.69, "y": 13.97, "t": "Glioblastoma patients"},
          {"x": 19.69, "y": 18.75, "t": "diagnosed between 2003–2021"},
          {"x": 23.4, "y": 29.59, "t": "Patients excluded"},
          {"x": 33.34, "y": 35.0, "t": "Insufficient volumetric data"},
          {"x": 35.0, "y": 44.59, "t": "Glioblastoma patients"},
          {"x": 21.88, "y": 49.69, "t": "with sufficient volumetric data"},
          {"x": 27.34, "y": 60.53, "t": "Patients excluded"},
          {"x": 34.84, "y": 65.41, "t": "IDH status not available"},
          {"x": 29.77, "y": 70.72, "t": "Patients excluded"},
          {"x": 37.27, "y": 75.94, "t": "No radiochemotherapy"},
          {"x": 36.4, "y": 81.03, "t": "RCTx + experimental therapy"},
          {"x": 36.1, "y": 86.25, "t": "CeTeG protocol"},
          {"x": 36.1, "y": 91.25, "t": "No data on first-line therapy"},
          {"x": 16.95, "y": 104.28, "t": "IDHwt glioblastoma patients treated per"},
          {"x": 12.81, "y": 108.97, "t": "EORTC 26981/22981 (TMZ/RT→TMZ)"},
          {"x": 42.78, "y": 114.16, "t": "CE resection"},
          {"x": 43.03, "y": 119.06, "t": "CE resection"},
          {"x": 40.1, "y": 124.28, "t": "CE resection"},
          {"x": 33.8, "y": 129.47, "t": "CE resection"}
        ]},
        "mark": {"type": "text", "align": "left", "baseline": "middle", "fontSize": 14, "color": "#222"},
        "encoding": {"x": {"field": "x", "type": "quantitative"}, "y": {"field": "y", "type": "quantitative"}, "text": {"field": "t"}}
      },
      {
        "data": {"values": [{"x": 1.56, "y": 2.6, "t": "F"}]},
        "mark": {"type": "text", "align": "left", "baseline": "middle", "fontSize": 16, "color": "#111"},
        "encoding": {"x": {"field": "x", "type": "quantitative"}, "y": {"field": "y", "type": "quantitative"}, "text": {"field": "t"}}
      }
    ]
  },
  {
    "spacing": 63,
    "resolve": {"scale": {"color": "independent"}, "legend": {"color": "independent"}},
    "vconcat": [
    {
      "width": 340, "height": 113,
      "title": {"text": "G", "frame": "group", "anchor": "start", "dx": -40, "offset": 19},
      "layer": [
        {
          "data": {"values": [
            {"g":"C","m":0,"s":100,"lo":100,"hi":100},{"g":"C","m":1,"s":100,"lo":99.5,"hi":100},{"g":"C","m":2,"s":99,"lo":98,"hi":100},{"g":"C","m":3,"s":97.5,"lo":96.5,"hi":98.5},
            {"g":"C","m":4,"s":97,"lo":95.8,"hi":98.2},{"g":"C","m":5,"s":96,"lo":94.6,"hi":97.4},{"g":"C","m":6,"s":93,"lo":91.4,"hi":94.6},{"g":"C","m":7,"s":92,"lo":90.3,"hi":93.7},
            {"g":"C","m":8,"s":91,"lo":89.1,"hi":92.9},{"g":"C","m":9,"s":88.5,"lo":86.4,"hi":90.6},{"g":"C","m":10,"s":86,"lo":83.8,"hi":88.2},{"g":"C","m":11,"s":82,"lo":79.6,"hi":84.4},
            {"g":"C","m":12,"s":78,"lo":75.4,"hi":80.6},{"g":"C","m":13,"s":75,"lo":72.3,"hi":77.7},{"g":"C","m":14,"s":72,"lo":69.2,"hi":74.8},{"g":"C","m":15,"s":68,"lo":65.2,"hi":70.8},
            {"g":"C","m":16,"s":64,"lo":61.1,"hi":66.9},{"g":"C","m":17,"s":60,"lo":57.1,"hi":62.9},{"g":"C","m":18,"s":57,"lo":54.1,"hi":59.9},{"g":"C","m":19,"s":54,"lo":51.1,"hi":56.9},
            {"g":"C","m":20,"s":50,"lo":47.1,"hi":52.9},{"g":"C","m":21,"s":46,"lo":43.1,"hi":48.9},{"g":"C","m":22,"s":42,"lo":39.2,"hi":44.8},{"g":"C","m":23,"s":39,"lo":36.2,"hi":41.8},
            {"g":"C","m":24,"s":37,"lo":34.2,"hi":39.8},{"g":"C","m":25,"s":35,"lo":32.3,"hi":37.7},{"g":"C","m":26,"s":33.5,"lo":30.8,"hi":36.2},{"g":"C","m":27,"s":33,"lo":30.3,"hi":35.7},
            {"g":"C","m":28,"s":32,"lo":29.3,"hi":34.7},{"g":"C","m":29,"s":31,"lo":28.3,"hi":33.7},{"g":"C","m":30,"s":30,"lo":27.3,"hi":32.7},{"g":"C","m":31,"s":29,"lo":26.3,"hi":31.7},
            {"g":"C","m":32,"s":26.5,"lo":23.9,"hi":29.1},{"g":"C","m":33,"s":25.5,"lo":22.9,"hi":28.1},{"g":"C","m":34,"s":25.5,"lo":22.9,"hi":28.1},{"g":"C","m":35,"s":25,"lo":22.4,"hi":27.6},
            {"g":"C","m":36,"s":24.5,"lo":21.9,"hi":27.1},{"g":"C","m":37,"s":23.5,"lo":20.9,"hi":26.1},{"g":"C","m":38,"s":23,"lo":20.4,"hi":25.6},{"g":"C","m":39,"s":23,"lo":20.4,"hi":25.6},
            {"g":"C","m":40,"s":22,"lo":19.4,"hi":24.6},{"g":"C","m":41,"s":21,"lo":18.4,"hi":23.6},{"g":"C","m":42,"s":20.5,"lo":17.9,"hi":23.1},{"g":"C","m":43,"s":19.5,"lo":16.9,"hi":22.1},
            {"g":"C","m":44,"s":19,"lo":16.4,"hi":21.6},{"g":"C","m":45,"s":18,"lo":15.4,"hi":20.6},{"g":"C","m":46,"s":17,"lo":14.4,"hi":19.6},{"g":"C","m":47,"s":16.5,"lo":13.9,"hi":19.1},
            {"g":"C","m":48,"s":16,"lo":13.4,"hi":18.6},
            {"g":"N","m":0,"s":100,"lo":100,"hi":100},{"g":"N","m":1,"s":100,"lo":99,"hi":100},{"g":"N","m":2,"s":99,"lo":97.5,"hi":100},{"g":"N","m":3,"s":97,"lo":95,"hi":99},
            {"g":"N","m":4,"s":96.5,"lo":94.2,"hi":98.8},{"g":"N","m":5,"s":95,"lo":92.4,"hi":97.6},{"g":"N","m":6,"s":91,"lo":87.8,"hi":94.2},{"g":"N","m":7,"s":90.5,"lo":87.2,"hi":93.8},
            {"g":"N","m":8,"s":87.5,"lo":84,"hi":91},{"g":"N","m":9,"s":83,"lo":79,"hi":87},{"g":"N","m":10,"s":79,"lo":74.8,"hi":83.2},{"g":"N","m":11,"s":74,"lo":69.5,"hi":78.5},
            {"g":"N","m":12,"s":69,"lo":64.3,"hi":73.7},{"g":"N","m":13,"s":65,"lo":60.2,"hi":69.8},{"g":"N","m":14,"s":62,"lo":57.2,"hi":66.8},{"g":"N","m":15,"s":57,"lo":52.1,"hi":61.9},
            {"g":"N","m":16,"s":48,"lo":43,"hi":53},{"g":"N","m":17,"s":45,"lo":40,"hi":50},{"g":"N","m":18,"s":44,"lo":39,"hi":49},{"g":"N","m":19,"s":40,"lo":35,"hi":45},
            {"g":"N","m":20,"s":36,"lo":31.2,"hi":40.8},{"g":"N","m":21,"s":35,"lo":30.2,"hi":39.8},{"g":"N","m":22,"s":33.5,"lo":28.8,"hi":38.2},{"g":"N","m":23,"s":31,"lo":26.3,"hi":35.7},
            {"g":"N","m":24,"s":28,"lo":23.5,"hi":32.5},{"g":"N","m":25,"s":26.5,"lo":22,"hi":31},{"g":"N","m":26,"s":25,"lo":20.6,"hi":29.4},{"g":"N","m":27,"s":24,"lo":19.7,"hi":28.3},
            {"g":"N","m":30,"s":19,"lo":14.8,"hi":23.2},{"g":"N","m":31,"s":18,"lo":13.8,"hi":22.2},{"g":"N","m":33,"s":18,"lo":13.8,"hi":22.2},{"g":"N","m":34,"s":16,"lo":11.9,"hi":20.1},
            {"g":"N","m":36,"s":16,"lo":11.9,"hi":20.1},{"g":"N","m":39,"s":16,"lo":11.9,"hi":20.1},{"g":"N","m":40,"s":14,"lo":10,"hi":18},{"g":"N","m":41,"s":14,"lo":10,"hi":18},
            {"g":"N","m":46,"s":11.5,"lo":7.6,"hi":15.4},{"g":"N","m":48,"s":10.5,"lo":6.7,"hi":14.3}
          ]},
          "encoding": {
            "x": {"field": "m", "type": "quantitative", "title": "Months", "scale": {"domain": [0, 48], "nice": false},
                  "axis": {"values": [0, 8, 16, 24, 32, 40, 48], "tickSize": 5, "labelFontSize": 12.4, "titleFontSize": 12.4, "titlePadding": 2}},
            "color": {"field": "g", "type": "nominal", "scale": {"domain": ["C", "N"], "range": ["#2b5f9e", "#2e9a5a"]},
                      "legend": {"orient": "none", "legendX": -46, "legendY": 155, "direction": "horizontal", "columns": 2, "title": null, "symbolType": "stroke", "symbolSize": 250, "symbolStrokeWidth": 2.5, "symbolOpacity": 1, "labelFontSize": 12, "labelColor": "#222", "labelOffset": 3, "columnPadding": -6, "labelLimit": 400,
                                 "labelExpr": "datum.label == 'C' ? 'Complete CE resection (n = 356)' : 'Near total CE resection (n = 102)'"}}
          },
          "layer": [
            {"mark": {"type": "line", "strokeWidth": 2},
             "encoding": {"y": {"field": "s", "type": "quantitative", "title": "Overall survival (%)", "scale": {"domain": [0, 100]},
                                "axis": {"values": [0, 25, 50, 75, 100], "tickSize": 5, "labelFontSize": 12.4, "titleFontSize": 12.4, "titlePadding": 4}}}},
            {"mark": {"type": "area", "opacity": 0.25}, "encoding": {"y": {"field": "lo", "type": "quantitative", "title": "Overall survival (%)", "stack": null}, "y2": {"field": "hi"}}},
            {"mark": {"type": "errorbar", "ticks": {"size": 5}, "thickness": 1}, "encoding": {"y": {"field": "lo", "type": "quantitative", "title": "Overall survival (%)"}, "y2": {"field": "hi"}}},
            {"mark": {"type": "point", "shape": "square", "filled": true, "size": 10, "opacity": 1}, "encoding": {"y": {"field": "s", "type": "quantitative", "title": "Overall survival (%)"}}}
          ]
        },
        {
          "data": {"values": [{"m": 18.71, "s": 98.2, "t": "*"}]},
          "mark": {"type": "text", "align": "left", "baseline": "middle", "fontSize": 9, "color": "#111"},
          "encoding": {"x": {"field": "m", "type": "quantitative", "title": "Months"}, "y": {"field": "s", "type": "quantitative", "title": "Overall survival (%)"}, "text": {"field": "t"}}
        },
        {
          "data": {"values": [{"m": 19.06, "s": 95.6, "t": "p"}]},
          "mark": {"type": "text", "align": "left", "baseline": "middle", "fontSize": 12.5, "fontWeight": "bold", "fontStyle": "italic", "color": "#111"},
          "encoding": {"x": {"field": "m", "type": "quantitative", "title": "Months"}, "y": {"field": "s", "type": "quantitative", "title": "Overall survival (%)"}, "text": {"field": "t"}}
        },
        {
          "data": {"values": [{"m": 20.33, "s": 95.6, "t": "= 0.046"}]},
          "mark": {"type": "text", "align": "left", "baseline": "middle", "fontSize": 12.5, "fontWeight": "bold", "color": "#111"},
          "encoding": {"x": {"field": "m", "type": "quantitative", "title": "Months"}, "y": {"field": "s", "type": "quantitative", "title": "Overall survival (%)"}, "text": {"field": "t"}}
        },
        {
          "data": {"values": [{"m": 26.68, "s": 95.6, "t": "(mOS 20"}, {"m": 40.1, "s": 95.6, "t": "17 months)"}]},
          "mark": {"type": "text", "align": "left", "baseline": "middle", "fontSize": 12.5, "color": "#222"},
          "encoding": {"x": {"field": "m", "type": "quantitative", "title": "Months"}, "y": {"field": "s", "type": "quantitative", "title": "Overall survival (%)"}, "text": {"field": "t"}}
        },
        {
          "data": {"values": [{"m": 34.3, "s": 95.6, "t": "versus"}]},
          "mark": {"type": "text", "align": "left", "baseline": "middle", "fontSize": 12.5, "fontStyle": "italic", "color": "#222"},
          "encoding": {"x": {"field": "m", "type": "quantitative", "title": "Months"}, "y": {"field": "s", "type": "quantitative", "title": "Overall survival (%)"}, "text": {"field": "t"}}
        }
      ]
    },
    {
      "width": 340, "height": 114,
      "layer": [
        {
          "data": {"values": [
            {"g":"S","m":0,"s":100,"lo":100,"hi":100},{"g":"S","m":1,"s":99.5,"lo":98.4,"hi":100},{"g":"S","m":2,"s":99.5,"lo":98.4,"hi":100},{"g":"S","m":3,"s":97,"lo":94.5,"hi":99.5},
            {"g":"S","m":4,"s":93,"lo":89.2,"hi":96.8},{"g":"S","m":5,"s":90,"lo":85.6,"hi":94.4},{"g":"S","m":6,"s":87.5,"lo":82.7,"hi":92.3},{"g":"S","m":7,"s":84.5,"lo":79.3,"hi":89.7},
            {"g":"S","m":8,"s":82.5,"lo":77,"hi":88},{"g":"S","m":9,"s":79.5,"lo":73.5,"hi":85.5},{"g":"S","m":10,"s":70,"lo":63.3,"hi":76.7},{"g":"S","m":11,"s":65,"lo":58,"hi":72},
            {"g":"S","m":12,"s":62.5,"lo":55.3,"hi":69.7},{"g":"S","m":13,"s":58.5,"lo":51.1,"hi":65.9},{"g":"S","m":14,"s":55,"lo":47.4,"hi":62.6},{"g":"S","m":15,"s":50.5,"lo":42.8,"hi":58.2},
            {"g":"S","m":16,"s":47,"lo":39.3,"hi":54.7},{"g":"S","m":17,"s":45,"lo":37.3,"hi":52.7},{"g":"S","m":18,"s":44,"lo":36.3,"hi":51.7},{"g":"S","m":19,"s":39,"lo":31.6,"hi":46.4},
            {"g":"S","m":20,"s":35,"lo":27.8,"hi":42.2},{"g":"S","m":21,"s":33,"lo":25.9,"hi":40.1},{"g":"S","m":22,"s":32,"lo":25,"hi":39},{"g":"S","m":23,"s":31.5,"lo":24.5,"hi":38.5},
            {"g":"S","m":24,"s":31,"lo":24,"hi":38},{"g":"S","m":25,"s":29,"lo":22.2,"hi":35.8},{"g":"S","m":26,"s":27.5,"lo":20.8,"hi":34.2},{"g":"S","m":27,"s":27.5,"lo":20.8,"hi":34.2},
            {"g":"S","m":28,"s":25,"lo":18.5,"hi":31.5},{"g":"S","m":30,"s":25,"lo":18.5,"hi":31.5},{"g":"S","m":31,"s":24,"lo":17.5,"hi":30.5},{"g":"S","m":32,"s":19,"lo":13,"hi":25},
            {"g":"S","m":33,"s":19,"lo":13,"hi":25},{"g":"S","m":36,"s":19,"lo":13,"hi":25},{"g":"S","m":37,"s":19,"lo":13,"hi":25},{"g":"S","m":43,"s":17,"lo":8.5,"hi":25.5},
            {"g":"S","m":45,"s":17,"lo":11,"hi":23},{"g":"S","m":48,"s":16,"lo":10,"hi":22},
            {"g":"P","m":0,"s":100,"lo":100,"hi":100},{"g":"P","m":1,"s":97,"lo":92.5,"hi":100},{"g":"P","m":2,"s":96,"lo":91.5,"hi":100},{"g":"P","m":3,"s":93,"lo":87.2,"hi":98.8},
            {"g":"P","m":4,"s":90,"lo":83.3,"hi":96.7},{"g":"P","m":5,"s":87,"lo":79.5,"hi":94.5},{"g":"P","m":6,"s":85,"lo":77.3,"hi":92.7},{"g":"P","m":7,"s":83,"lo":74.8,"hi":91.2},
            {"g":"P","m":8,"s":80,"lo":71.3,"hi":88.7},{"g":"P","m":9,"s":75,"lo":65.7,"hi":84.3},{"g":"P","m":10,"s":65,"lo":54.8,"hi":75.2},{"g":"P","m":11,"s":62,"lo":51.6,"hi":72.4},
            {"g":"P","m":12,"s":57,"lo":46.5,"hi":67.5},{"g":"P","m":13,"s":55,"lo":44.5,"hi":65.5},{"g":"P","m":14,"s":52,"lo":41.5,"hi":62.5},{"g":"P","m":15,"s":49,"lo":38.6,"hi":59.4},
            {"g":"P","m":16,"s":45,"lo":34.7,"hi":55.3},{"g":"P","m":17,"s":40,"lo":29.9,"hi":50.1},{"g":"P","m":18,"s":36,"lo":26.2,"hi":45.8},{"g":"P","m":19,"s":33,"lo":23.4,"hi":42.6},
            {"g":"P","m":20,"s":31,"lo":21.6,"hi":40.4},{"g":"P","m":21,"s":29,"lo":19.8,"hi":38.2},{"g":"P","m":22,"s":27.5,"lo":18.4,"hi":36.6},{"g":"P","m":23,"s":17,"lo":9.2,"hi":24.8},
            {"g":"P","m":24,"s":15,"lo":7.5,"hi":22.5},{"g":"P","m":27,"s":13,"lo":6,"hi":20},{"g":"P","m":33,"s":11,"lo":4.8,"hi":17.2},{"g":"P","m":37,"s":9,"lo":3.5,"hi":14.5},
            {"g":"P","m":42,"s":9,"lo":3.5,"hi":14.5},{"g":"P","m":45,"s":7,"lo":2,"hi":12},{"g":"P","m":48,"s":5,"lo":1,"hi":9}
          ]},
          "encoding": {
            "x": {"field": "m", "type": "quantitative", "title": "Months", "scale": {"domain": [0, 48], "nice": false},
                  "axis": {"values": [0, 8, 16, 24, 32, 40, 48], "tickSize": 5, "labelFontSize": 12.4, "titleFontSize": 12.4, "titlePadding": 2}},
            "color": {"field": "g", "type": "nominal", "scale": {"domain": ["S", "P"], "range": ["#8b5a2b", "#f07a7a"]},
                      "legend": {"orient": "none", "legendX": -46, "legendY": 151, "direction": "horizontal", "columns": 2, "title": null, "symbolType": "stroke", "symbolSize": 250, "symbolStrokeWidth": 2.5, "symbolOpacity": 1, "labelFontSize": 12, "labelColor": "#222", "labelOffset": 3, "columnPadding": 15, "labelLimit": 400,
                                 "labelExpr": "datum.label == 'S' ? 'Subtotal CE resection (n = 156)' : 'Partial CE resection (n = 75)'"}}
          },
          "layer": [
            {"mark": {"type": "line", "strokeWidth": 2},
             "encoding": {"y": {"field": "s", "type": "quantitative", "title": "Overall survival (%)", "scale": {"domain": [0, 100]},
                                "axis": {"values": [0, 25, 50, 75, 100], "tickSize": 5, "labelFontSize": 12.4, "titleFontSize": 12.4, "titlePadding": 4}}}},
            {"mark": {"type": "area", "opacity": 0.25}, "encoding": {"y": {"field": "lo", "type": "quantitative", "title": "Overall survival (%)", "stack": null}, "y2": {"field": "hi"}}},
            {"mark": {"type": "errorbar", "ticks": {"size": 5}, "thickness": 1}, "encoding": {"y": {"field": "lo", "type": "quantitative", "title": "Overall survival (%)"}, "y2": {"field": "hi"}}},
            {"mark": {"type": "point", "shape": "square", "filled": true, "size": 10, "opacity": 1}, "encoding": {"y": {"field": "s", "type": "quantitative", "title": "Overall survival (%)"}}}
          ]
        },
        {
          "data": {"values": [{"m": 18.78, "s": 96.5, "t": "p"}, {"m": 33.75, "s": 96.5, "t": "versus"}]},
          "mark": {"type": "text", "align": "left", "baseline": "middle", "fontSize": 12.5, "fontStyle": "italic", "color": "#222"},
          "encoding": {"x": {"field": "m", "type": "quantitative", "title": "Months"}, "y": {"field": "s", "type": "quantitative", "title": "Overall survival (%)"}, "text": {"field": "t"}}
        },
        {
          "data": {"values": [{"m": 19.77, "s": 96.5, "t": "= 0.192 (mOS 16"}, {"m": 39.67, "s": 96.5, "t": "16 months)"}]},
          "mark": {"type": "text", "align": "left", "baseline": "middle", "fontSize": 12.5, "color": "#222"},
          "encoding": {"x": {"field": "m", "type": "quantitative", "title": "Months"}, "y": {"field": "s", "type": "quantitative", "title": "Overall survival (%)"}, "text": {"field": "t"}}
        }
      ]
    }
    ]
  }
  ]
}
]
}
